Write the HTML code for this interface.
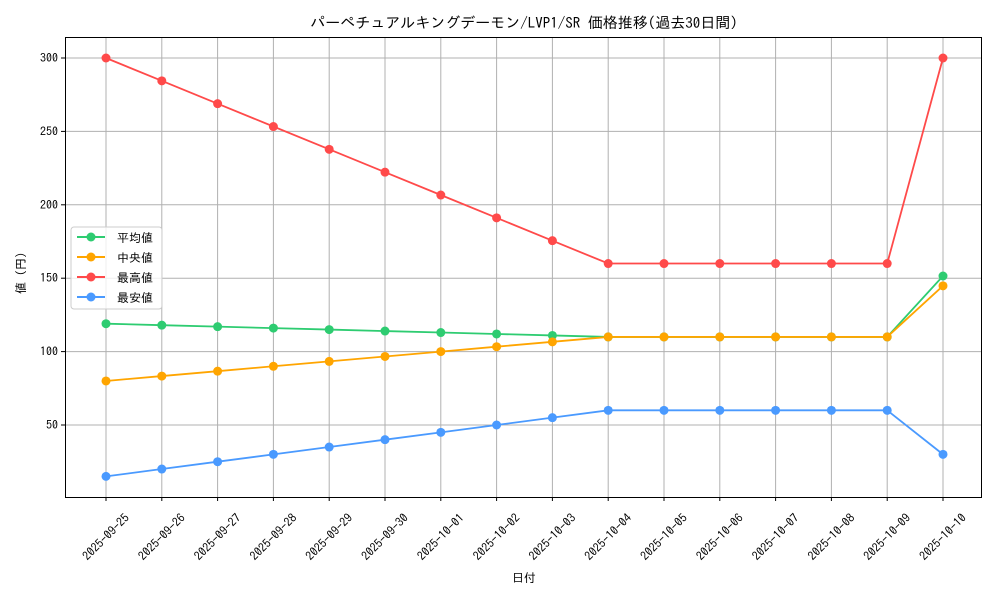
<!DOCTYPE html>
<html><head><meta charset="utf-8"><style>
body{margin:0;background:#fff}
svg text{font-family:"IPAGothic","Liberation Sans","Noto Sans CJK JP",sans-serif;fill:#000}
</style></head><body>
<svg width="1000" height="600" xmlns="http://www.w3.org/2000/svg" id="s">
<rect width="1000" height="600" fill="#fff"/>
<text x="524" y="28" font-size="15" text-anchor="middle">パーペチュアルキングデーモン/LVP1/SR 価格推移(過去30日間)</text>
<g id="grid" stroke="#b0b0b0" stroke-width="1"></g>
<g id="lines"></g>
<rect x="65.5" y="37.5" width="916" height="460" fill="none" stroke="#000" stroke-width="1"/>
<g id="ticks" font-size="12"></g>
<text x="524" y="582" font-size="12" text-anchor="middle">日付</text>
<text transform="translate(25,270) rotate(-90)" font-size="12" text-anchor="middle">値（円）</text>
<g>
<rect x="71" y="227" width="91" height="82" rx="3" fill="#fff" fill-opacity="0.8" stroke="#ccc"/>
<line x1="77" y1="237" x2="105" y2="237" stroke="#2ecc71" stroke-width="2"/><circle cx="91" cy="237" r="4.5" fill="#2ecc71"/><text x="117" y="242" font-size="12">平均値</text>
<line x1="77" y1="257" x2="105" y2="257" stroke="#ffa500" stroke-width="2"/><circle cx="91" cy="257" r="4.5" fill="#ffa500"/><text x="117" y="262" font-size="12">中央値</text>
<line x1="77" y1="277" x2="105" y2="277" stroke="#ff4a4a" stroke-width="2"/><circle cx="91" cy="277" r="4.5" fill="#ff4a4a"/><text x="117" y="282" font-size="12">最高値</text>
<line x1="77" y1="297" x2="105" y2="297" stroke="#4a9aff" stroke-width="2"/><circle cx="91" cy="297" r="4.5" fill="#4a9aff"/><text x="117" y="302" font-size="12">最安値</text>
</g>
</svg>
<script>
const NS="http://www.w3.org/2000/svg";
const X=i=>106+i*55.8, Y=v=>425-(v-50)*1.468;
const dates=["09-25","09-26","09-27","09-28","09-29","09-30","10-01","10-02","10-03","10-04","10-05","10-06","10-07","10-08","10-09","10-10"];
const g=document.getElementById('grid'),t=document.getElementById('ticks'),L=document.getElementById('lines');
function el(p,n,a,txt){const e=document.createElementNS(NS,n);for(const k in a)e.setAttribute(k,a[k]);if(txt)e.textContent=txt;p.appendChild(e);return e;}
dates.forEach((d,i)=>{const x=X(i);el(g,'line',{x1:x,x2:x,y1:37,y2:497});el(t,'line',{x1:x,x2:x,y1:497,y2:501,stroke:'#000'});
el(t,'text',{x:x,y:537,'text-anchor':'middle','dominant-baseline':'central',transform:`rotate(-45 ${x} 537)`},'2025-'+d);});
[50,100,150,200,250,300].forEach(v=>{const y=Y(v);el(g,'line',{x1:65,x2:981,y1:y,y2:y});el(t,'line',{x1:61,x2:65,y1:y,y2:y,stroke:'#000'});el(t,'text',{x:58,y:y+4,'text-anchor':'end'},v);});
const mx=[],av=[],md=[],mn=[];
for(let i=0;i<16;i++){
 if(i<9){mx.push(300-i*140/9);av.push(119-i);md.push(80+i*10/3);mn.push(15+i*5);}
 else if(i<15){mx.push(160);av.push(110);md.push(110);mn.push(60);}
 else{mx.push(300);av.push(151.5);md.push(144.8);mn.push(30);}
}
[[av,'#2ecc71'],[md,'#ffa500'],[mx,'#ff4a4a'],[mn,'#4a9aff']].forEach(([d,c])=>{
 el(L,'polyline',{points:d.map((v,i)=>X(i)+','+Y(v)).join(' '),fill:'none',stroke:c,'stroke-width':1.8});
 d.forEach((v,i)=>el(L,'circle',{cx:X(i),cy:Y(v),r:4.5,fill:c}));
});
</script>
</body></html>
